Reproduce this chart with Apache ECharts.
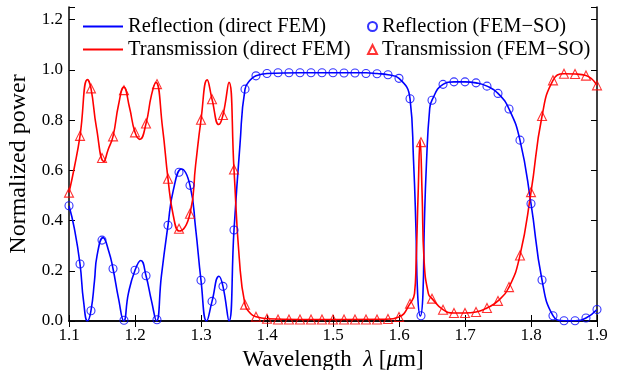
<!DOCTYPE html>
<html lang="en">
<head>
    <meta charset="UTF-8">
    <title>Reflection / Transmission</title>
    <script src="https://cdn.jsdelivr.net/npm/echarts@6/dist/echarts.min.js"></script>
    <style type="text/css">
        html, body { margin: 0; padding: 0; background: #fff; }
        #box { width: 626px; height: 370px; }
    </style>
</head>
<body>
    <div id="box"></div>
</body>
</html>
<script>
    // FEM-SO sample wavelengths (markers)
    var soLambda = [1.1, 1.1167, 1.1333, 1.15, 1.1667, 1.1833, 1.2, 1.2167, 1.2333, 1.25,
        1.2667, 1.2833, 1.3, 1.3167, 1.3333, 1.35, 1.3667, 1.3833, 1.4, 1.4167,
        1.4333, 1.45, 1.4667, 1.4833, 1.5, 1.5167, 1.5333, 1.55, 1.5667, 1.5833,
        1.6, 1.6167, 1.6333, 1.65, 1.6667, 1.6833, 1.7, 1.7167, 1.7333, 1.75,
        1.7667, 1.7833, 1.8, 1.8167, 1.8333, 1.85, 1.8667, 1.8833, 1.9];
    var soRefl = [0.459, 0.227, 0.041, 0.322, 0.208, 0.003, 0.202, 0.180, 0.005, 0.381,
        0.592, 0.540, 0.162, 0.078, 0.138, 0.362, 0.923, 0.976, 0.985, 0.988,
        0.988, 0.988, 0.988, 0.988, 0.988, 0.987, 0.987, 0.985, 0.984, 0.980,
        0.966, 0.885, 0.021, 0.879, 0.942, 0.952, 0.952, 0.948, 0.935, 0.906,
        0.844, 0.720, 0.467, 0.163, 0.021, 0.001, 0.001, 0.012, 0.046];
    var soTrans = [0.511, 0.737, 0.926, 0.649, 0.735, 0.919, 0.751, 0.786, 0.943, 0.566,
        0.367, 0.427, 0.801, 0.883, 0.820, 0.603, 0.065, 0.017, 0.009, 0.006,
        0.006, 0.006, 0.006, 0.006, 0.006, 0.006, 0.006, 0.006, 0.006, 0.008,
        0.016, 0.069, 0.712, 0.089, 0.045, 0.032, 0.032, 0.036, 0.052, 0.080,
        0.135, 0.261, 0.513, 0.816, 0.958, 0.984, 0.983, 0.977, 0.938];

    // direct FEM curves (denser where the curve oscillates)
    var reflLambda = [1.1, 1.108, 1.1167, 1.122, 1.128, 1.1333, 1.1386, 1.1425, 1.1516, 1.16,
        1.1667, 1.175, 1.183, 1.19, 1.2, 1.2088, 1.2167, 1.225, 1.2326, 1.24,
        1.25, 1.258, 1.2705, 1.2833, 1.2918, 1.3, 1.3085, 1.3167, 1.3272, 1.3333,
        1.3424, 1.35, 1.359, 1.3667, 1.375, 1.3833, 1.4, 1.45, 1.55, 1.5667,
        1.5833, 1.6, 1.6167, 1.622, 1.6256, 1.6282, 1.6322, 1.6363, 1.6383, 1.6418,
        1.6463, 1.65, 1.6667, 1.6833, 1.7, 1.7167, 1.7333, 1.75, 1.7667, 1.7833,
        1.8, 1.8167, 1.8333, 1.85, 1.8667, 1.8833, 1.9];
    var reflLine = [0.459, 0.37, 0.227, 0.08, 0.0, 0.041, 0.16, 0.26, 0.332, 0.28,
        0.208, 0.09, 0.0, 0.11, 0.202, 0.241, 0.18, 0.08, 0.0, 0.18,
        0.381, 0.52, 0.605, 0.540, 0.37, 0.162, 0.0, 0.078, 0.178, 0.138,
        0.0, 0.362, 0.70, 0.923, 0.96, 0.976, 0.985, 0.988, 0.988, 0.985,
        0.980, 0.966, 0.885, 0.64, 0.374, 0.109, 0.02, 0.109, 0.374, 0.64,
        0.838, 0.879, 0.942, 0.952, 0.952, 0.948, 0.935, 0.906, 0.844, 0.720,
        0.467, 0.163, 0.021, 0.001, 0.001, 0.012, 0.046];

    var transLambda = [1.1, 1.108, 1.1167, 1.128, 1.1333, 1.1416, 1.153, 1.159, 1.1667, 1.175,
        1.183, 1.1917, 1.2, 1.2073, 1.2167, 1.225, 1.2316, 1.2417, 1.25, 1.258,
        1.267, 1.2833, 1.2918, 1.3, 1.3094, 1.3167, 1.327, 1.3333, 1.3424, 1.35,
        1.358, 1.3667, 1.375, 1.3833, 1.4, 1.45, 1.58, 1.6, 1.6167, 1.6235,
        1.626, 1.629, 1.632, 1.635, 1.638, 1.6445, 1.65, 1.6667, 1.6833, 1.7,
        1.7167, 1.7333, 1.75, 1.7667, 1.7833, 1.8, 1.8167, 1.8333, 1.85, 1.8667,
        1.8833, 1.9];
    var transLine = [0.511, 0.61, 0.737, 0.961, 0.926, 0.77, 0.635, 0.68, 0.735, 0.86,
        0.931, 0.85, 0.751, 0.723, 0.786, 0.90, 0.950, 0.77, 0.566, 0.42,
        0.358, 0.427, 0.62, 0.801, 0.960, 0.883, 0.782, 0.820, 0.950, 0.603,
        0.25, 0.065, 0.03, 0.017, 0.009, 0.006, 0.007, 0.016, 0.069, 0.109,
        0.241, 0.507, 0.719, 0.507, 0.241, 0.109, 0.089, 0.045, 0.032, 0.032,
        0.036, 0.052, 0.080, 0.135, 0.261, 0.513, 0.816, 0.958, 0.984, 0.983,
        0.977, 0.938];

    var font = "'Liberation Serif', 'DejaVu Serif', serif";

    function pairs(xs, ys) {
        var out = [];
        for (let i = 0; i < xs.length; i++) {
            out.push([xs[i], ys[i]]);
        }
        return out;
    }

    var mychart = echarts.init(document.getElementById("box"));

    var tickStyle = { show: true, inside: true, length: 6, lineStyle: { color: '#000', width: 1 } };
    var lineAxis = { show: true, lineStyle: { color: '#000', width: 1.5 } };
    var legendText = { fontFamily: font, fontSize: 20.5, color: '#000' };

    mychart.setOption({
        animation: false,
        backgroundColor: '#fff',
        grid: { left: 69, right: 29, top: 7, bottom: 49, outerBoundsMode: 'none' },
        legend: [{
            data: [
                { name: 'Reflection (direct FEM)', icon: 'rect' },
                { name: 'Transmission (direct FEM)', icon: 'rect' }
            ],
            orient: 'vertical',
            left: 83, top: 16,
            padding: 0,
            itemWidth: 40, itemHeight: 2, itemGap: 2,
            textStyle: legendText
        }, {
            data: ['Reflection (FEM−SO)', 'Transmission (FEM−SO)'],
            orient: 'vertical',
            left: 367, top: 16,
            padding: 0,
            itemWidth: 9, itemHeight: 9, itemGap: 2,
            textStyle: legendText
        }],
        xAxis: [{
            type: 'value',
            min: 1.1, max: 1.9, interval: 0.1,
            name: 'Wavelength  {it|λ} [{it|μ}m]',
            nameLocation: 'middle',
            nameGap: 22,
            nameTextStyle: {
                fontFamily: font, fontSize: 23, color: '#000',
                rich: { it: { fontFamily: font, fontSize: 23, fontStyle: 'italic', color: '#000' } }
            },
            axisLine: lineAxis,
            axisTick: tickStyle,
            splitLine: { show: false },
            axisLabel: {
                fontFamily: font, fontSize: 17, color: '#000', margin: 6,
                formatter: function (v) { return v.toFixed(1); }
            }
        }, {
            type: 'value',
            position: 'top',
            min: 1.1, max: 1.9, interval: 0.1,
            axisLine: lineAxis,
            axisTick: tickStyle,
            splitLine: { show: false },
            axisLabel: { show: false }
        }],
        yAxis: [{
            type: 'value',
            min: 0, max: 1.25, interval: 0.2,
            name: 'Normalized power',
            nameLocation: 'middle',
            nameGap: 32,
            nameTextStyle: { fontFamily: font, fontSize: 24, color: '#000' },
            axisLine: lineAxis,
            axisTick: tickStyle,
            splitLine: { show: false },
            axisLabel: {
                fontFamily: font, fontSize: 17, color: '#000', margin: 6,
                formatter: function (v) { return v > 1.21 ? '' : v.toFixed(1); }
            }
        }, {
            type: 'value',
            position: 'right',
            min: 0, max: 1.25, interval: 0.2,
            axisLine: lineAxis,
            axisTick: tickStyle,
            splitLine: { show: false },
            axisLabel: { show: false }
        }],
        series: [{
            name: 'Reflection (direct FEM)',
            type: 'line',
            data: pairs(reflLambda, reflLine),
            smooth: 0.5,
            symbol: 'none',
            lineStyle: { color: '#0000ff', width: 1.6 },
            itemStyle: { color: '#0000ff' }
        }, {
            name: 'Transmission (direct FEM)',
            type: 'line',
            data: pairs(transLambda, transLine),
            smooth: 0.5,
            symbol: 'none',
            lineStyle: { color: '#ff0000', width: 1.6 },
            itemStyle: { color: '#ff0000' }
        }, {
            name: 'Reflection (FEM−SO)',
            type: 'scatter',
            data: pairs(soLambda, soRefl),
            symbol: 'circle',
            symbolSize: 8,
            itemStyle: { color: 'rgba(0,0,0,0)', borderColor: '#0000ff', borderWidth: 1.1 },
            z: 3
        }, {
            name: 'Transmission (FEM−SO)',
            type: 'scatter',
            data: pairs(soLambda, soTrans),
            symbol: 'triangle',
            symbolSize: 9,
            itemStyle: { color: 'rgba(0,0,0,0)', borderColor: '#ff0000', borderWidth: 1.1 },
            z: 3
        }]
    });
</script>
